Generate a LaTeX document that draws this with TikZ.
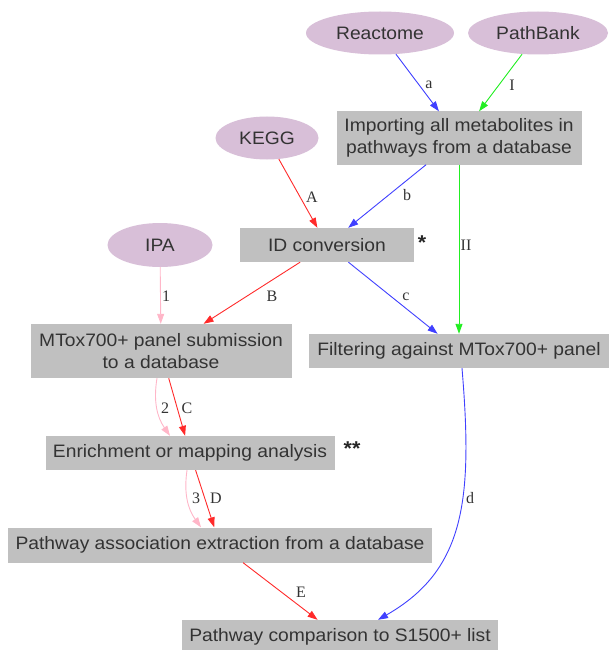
\documentclass[tikz,border=0pt]{standalone}
\usepackage{fontspec}
\setmainfont{Liberation Sans}[FakeStretch=1.07]
\newfontfamily\lblfont{Liberation Serif}
\usetikzlibrary{arrows.meta,shapes.geometric}
\definecolor{boxgray}{HTML}{C0C0C0}
\definecolor{thistlec}{HTML}{D8BFD8}
\definecolor{txt}{HTML}{333333}
\definecolor{eblue}{HTML}{4040FF}
\definecolor{ered}{HTML}{FF2A2A}
\definecolor{egreen}{HTML}{22EE22}
\definecolor{epink}{HTML}{FFB6C8}
\begin{document}
\begin{tikzpicture}[x=1pt,y=-1pt,
  box/.style={rectangle, fill=boxgray, text=txt, inner sep=0pt, align=center,
    font=\fontsize{18}{21.7}\selectfont},
  db/.style={ellipse, fill=thistlec, text=txt, inner sep=0pt,
    font=\fontsize{18}{21.7}\selectfont},
  edge/.style={-{Triangle[length=10pt,width=7pt]}, line width=0.9pt},
  lbl/.style={font=\lblfont\fontsize{16}{17}\selectfont, text=txt, inner sep=0pt},
  stars/.style={font=\fontsize{20}{22}\selectfont\bfseries, text=black!85, inner sep=0pt}
]
\useasboundingbox (0,0) rectangle (609,650);

% source nodes
\node[db, minimum width=148pt, minimum height=43pt] (reactome) at (380,33) {Reactome};
\node[db, minimum width=140pt, minimum height=43pt] (pathbank) at (538,33) {PathBank};
\node[db, minimum width=103pt, minimum height=43pt] (kegg) at (267,138) {KEGG};
\node[db, minimum width=105pt, minimum height=44pt] (ipa) at (160,245) {IPA};

% process boxes
\node[box, minimum width=245pt, minimum height=53pt] (import) at (459,138)
  {Importing all metabolites in\\pathways from a database};
\node[box, minimum width=174pt, minimum height=34pt] (idconv) at (327,245) {ID conversion};
\node[box, minimum width=261pt, minimum height=54pt] (mtox) at (161,351)
  {MTox700+ panel submission\\to a database};
\node[box, minimum width=300pt, minimum height=34pt] (filter) at (459,351)
  {Filtering against MTox700+ panel};
\node[box, minimum width=289pt, minimum height=34pt] (enrich) at (190,453)
  {Enrichment or mapping analysis};
\node[box, minimum width=424pt, minimum height=35pt] (passoc) at (220,545)
  {Pathway association extraction from a database};
\node[box, minimum width=316pt, minimum height=34pt] (cmp) at (340,637)
  {Pathway comparison to S1500+ list};

\node[stars] (star1) at (422,243) {*};
\node[stars] (star2) at (352,449) {**};

% edges
\draw[edge, eblue] (reactome) -- (import);
\draw[edge, egreen] (pathbank) -- (import);
\draw[edge, eblue] (import) -- (idconv);
\draw[edge, ered] (kegg) -- (idconv);
\draw[edge, egreen] (import) -- (filter);
\draw[edge, eblue] (idconv) -- (filter);
\draw[edge, ered] (idconv) -- (mtox);
\draw[edge, epink] (ipa) -- (mtox);
\draw[edge, ered] (mtox) -- (enrich);
\draw[edge, epink] ([xshift=-4pt]mtox.south) to[bend right=22] ([xshift=-20pt]enrich.north);
\draw[edge, ered] (enrich) -- (passoc);
\draw[edge, epink] ([xshift=-3pt]enrich.south) to[bend right=22] ([xshift=-19pt]passoc.north);
\draw[edge, ered] (passoc) -- (cmp);
\draw[edge, eblue] ([xshift=3pt]filter.south) .. controls (473,500) and (465,570) .. ([xshift=38pt]cmp.north);

% edge labels
\node[lbl] (la) at (429,85) {a};
\node[lbl] (lI) at (512,85) {I};
\node[lbl] (lb) at (407,195) {b};
\node[lbl] (lA) at (312,197) {A};
\node[lbl] (lII) at (466,245) {II};
\node[lbl] (lc) at (406,297) {c};
\node[lbl] (lB) at (272,296) {B};
\node[lbl] (l1) at (166,296) {1};
\node[lbl] (l2) at (165,408) {2};
\node[lbl] (lC) at (187,408) {C};
\node[lbl] (l3) at (196,498) {3};
\node[lbl] (lD) at (216,498) {D};
\node[lbl] (lE) at (301,592) {E};
\node[lbl] (ld) at (470,498) {d};
\end{tikzpicture}
\end{document}
